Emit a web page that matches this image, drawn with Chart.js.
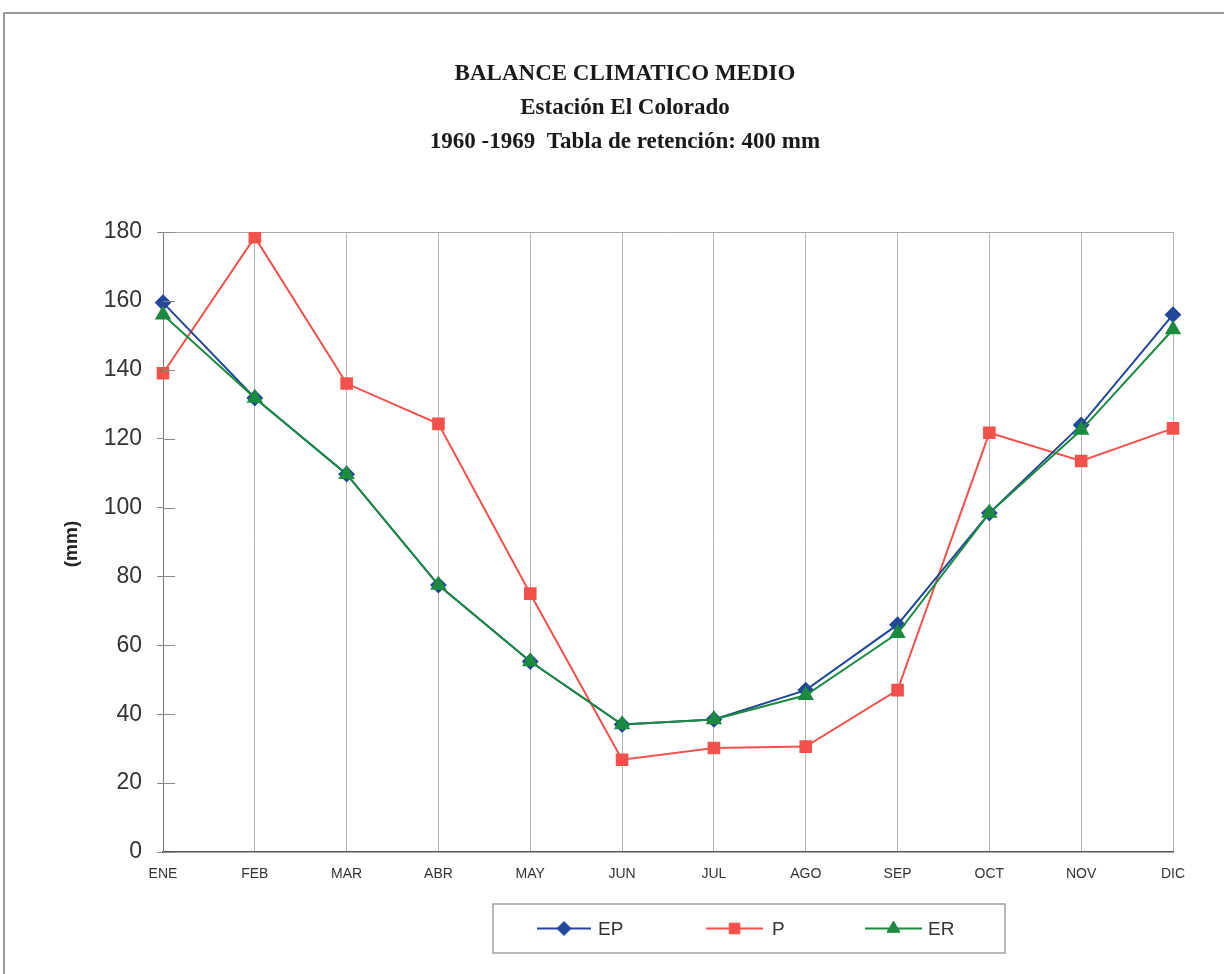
<!DOCTYPE html>
<html>
<head>
<meta charset="utf-8">
<script src="https://cdn.jsdelivr.net/npm/chart.js@4.4.1/dist/chart.umd.min.js"></script>
<style>
  html, body { margin: 0; padding: 0; background: #ffffff; }
  #wrap { position: relative; width: 1224px; height: 974px; overflow: hidden; }
  canvas { display: block; }
</style>
</head>
<body>
<div id="wrap"><canvas id="chart" width="1224" height="974"></canvas></div>
<script>
// Monthly climatic balance, El Colorado station (mm)
const months = ['ENE', 'FEB', 'MAR', 'ABR', 'MAY', 'JUN', 'JUL', 'AGO', 'SEP', 'OCT', 'NOV', 'DIC'];
const epValues = [159.5, 131.8, 109.7, 77.5, 55.3, 37.0, 38.5, 47.0, 66.0, 98.4, 124.0, 156.0];
const pValues  = [139.0, 178.5, 136.0, 124.3, 75.0, 26.8, 30.2, 30.6, 47.0, 121.7, 113.5, 123.0];
const erValues = [156.0, 131.8, 109.7, 77.5, 55.3, 37.0, 38.5, 45.5, 63.5, 98.4, 122.5, 151.7];
const yTicks = [0, 20, 40, 60, 80, 100, 120, 140, 160, 180];
const titleLines = ['BALANCE CLIMATICO MEDIO', 'Estación El Colorado', '1960 -1969  Tabla de retención: 400 mm'];
const yAxisLabel = '(mm)';

const COLORS = { ep: '#23479a', p: '#f4514c', er: '#1c8a3f' };

// Title, axis caption, framed legend and small inner tick marks
const decorations = {
  id: 'decorations',
  afterDraw(chart) {
    const ctx = chart.ctx;
    const area = chart.chartArea;
    ctx.save();

    // outer frame
    ctx.strokeStyle = '#9a9a9a';
    ctx.lineWidth = 2;
    ctx.strokeRect(4, 13, 1400, 1100);

    // title block
    ctx.fillStyle = '#1a1a1a';
    ctx.textAlign = 'center';
    ctx.textBaseline = 'middle';
    ctx.font = 'bold 23px "Liberation Serif", "Times New Roman", serif';
    const ys = [74, 108, 142];
    titleLines.forEach((t, i) => ctx.fillText(t, 625, ys[i]));

    // vertical axis caption
    ctx.save();
    ctx.translate(72, 544);
    ctx.rotate(-Math.PI / 2);
    ctx.font = 'bold 19px "Liberation Sans", Arial, sans-serif';
    ctx.fillStyle = '#222';
    ctx.fillText(yAxisLabel, 0, 0);
    ctx.restore();

    // inner part of the y tick marks
    const yScale = chart.scales.y;
    ctx.strokeStyle = '#888';
    ctx.lineWidth = 1;
    yScale.ticks.forEach(t => {
      const y = Math.round(yScale.getPixelForValue(t.value)) + 0.5;
      ctx.beginPath();
      ctx.moveTo(area.left, y);
      ctx.lineTo(area.left + 12, y);
      ctx.stroke();
    });

    // legend
    const box = { x: 493, y: 904, w: 512, h: 49 };
    ctx.strokeStyle = '#a0a0a0';
    ctx.lineWidth = 1.5;
    ctx.strokeRect(box.x, box.y, box.w, box.h);
    const cy = box.y + box.h / 2;
    const items = [
      { x0: 537, x1: 591, tx: 598 },
      { x0: 706, x1: 763, tx: 772 },
      { x0: 865, x1: 922, tx: 928 }
    ];
    ctx.font = '19px "Liberation Sans", Arial, sans-serif';
    ctx.textAlign = 'left';
    chart.data.datasets.forEach((ds, i) => {
      const it = items[i];
      ctx.strokeStyle = ds.borderColor;
      ctx.lineWidth = 2;
      ctx.beginPath();
      ctx.moveTo(it.x0, cy);
      ctx.lineTo(it.x1, cy);
      ctx.stroke();
      ctx.fillStyle = ds.backgroundColor;
      ctx.strokeStyle = ds.borderColor;
      ctx.lineWidth = 1;
      Chart.helpers.drawPoint(ctx, {
        pointStyle: ds.pointStyle,
        radius: ds.pointRadius,
        rotation: 0,
        borderWidth: 1
      }, (it.x0 + it.x1) / 2, cy);
      ctx.fillStyle = '#333';
      ctx.fillText(ds.label, it.tx, cy + 1);
    });
    ctx.restore();
  }
};

new Chart(document.getElementById('chart'), {
  type: 'line',
  data: {
    labels: months,
    datasets: [
      {
        label: 'EP', data: epValues, borderColor: COLORS.ep, backgroundColor: COLORS.ep,
        pointStyle: 'rectRot', pointRadius: 7, borderWidth: 2, order: 2
      },
      {
        label: 'P', data: pValues, borderColor: COLORS.p, backgroundColor: COLORS.p,
        pointStyle: 'rect', pointRadius: 7.5, borderWidth: 2, order: 3
      },
      {
        label: 'ER', data: erValues, borderColor: COLORS.er, backgroundColor: COLORS.er,
        pointStyle: 'triangle', pointRadius: 7.5, borderWidth: 2, order: 1
      }
    ]
  },
  options: {
    responsive: false,
    devicePixelRatio: 1,
    animation: false,
    layout: { padding: { left: 0, right: 51, top: 232, bottom: 82 } },
    plugins: {
      legend: { display: false },
      title: { display: false },
      tooltip: { enabled: false }
    },
    elements: { line: { tension: 0 }, point: { borderWidth: 1 } },
    scales: {
      x: {
        offset: false,
        afterFit(scale) { scale.height = 40; },
        grid: { color: '#b4b4b4', lineWidth: 1, drawTicks: false },
        border: { color: '#555', width: 1.5 },
        ticks: {
          padding: 14,
          color: '#333',
          font: { family: '"Liberation Sans", Arial, sans-serif', size: 14 },
          maxRotation: 0, autoSkip: false
        }
      },
      y: {
        min: 0, max: 180,
        afterFit(scale) { scale.width = 163; },
        afterBuildTicks(scale) { scale.ticks = yTicks.map(v => ({ value: v })); },
        grid: {
          color: ctx => (ctx.tick && ctx.tick.value === 180 ? '#a8a8a8' : 'rgba(0,0,0,0)'),
          tickColor: '#888',
          tickLength: 6,
          lineWidth: 1
        },
        border: { color: '#777', width: 1 },
        ticks: {
          padding: 15,
          color: '#333',
          font: { family: '"Liberation Sans", Arial, sans-serif', size: 23 }
        }
      }
    }
  },
  plugins: [decorations]
});
</script>
</body>
</html>
